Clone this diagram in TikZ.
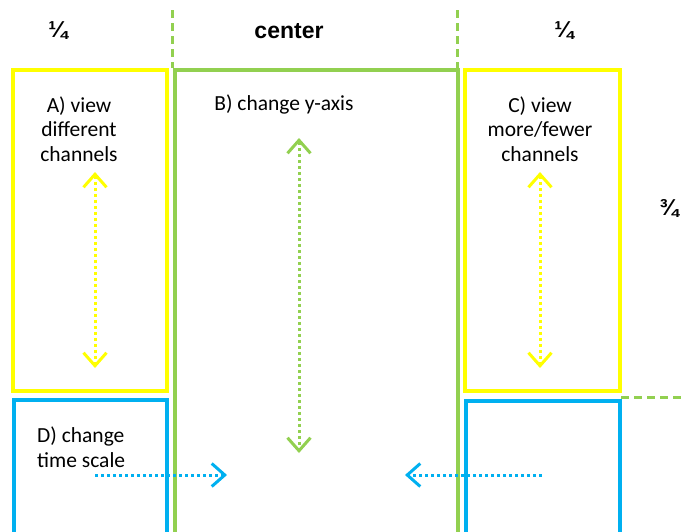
\documentclass[tikz,border=0pt]{standalone}
\usepackage{fontspec}
\setmainfont{Carlito}
\newfontfamily\headfont{Liberation Sans}
\usetikzlibrary{arrows.meta}
\definecolor{areayellow}{RGB}{255,255,0}
\definecolor{areagreen}{RGB}{146,208,80}
\definecolor{areablue}{RGB}{0,176,240}
\tikzset{
  areabox/.style={line width=4pt},
  divider/.style={draw=areagreen, line width=3pt, dash pattern=on 8pt off 5pt},
  gesture/.style={line width=3pt, dash pattern=on 3pt off 3pt,
    {Straight Barb[length=13pt,width=23pt,line width=3pt]}-{Straight Barb[length=13pt,width=23pt,line width=3pt]}},
  swipe/.style={line width=3pt, dash pattern=on 3pt off 3pt,
    -{Straight Barb[length=13pt,width=23pt,line width=3pt]}},
  label/.style={font=\fontsize{21.5}{24.5}\selectfont, inner sep=0pt, align=center},
  head/.style={font=\headfont\bfseries\fontsize{23}{26}\selectfont, inner sep=0pt}
}
\begin{document}
\begin{tikzpicture}[x=1pt, y=-1pt]%
\useasboundingbox (0,0) rectangle (686,531);%
\clip (0,0) rectangle (686,531);%
\draw[divider] (172,10) -- (172,68);%
\draw[divider] (457,10) -- (457,68);%
\draw[divider] (621,397) -- (690,397);%
\node[head] (fracleft) at (58,31) {¼};%
\node[head] (centerhead) at (289,31) {center};%
\node[head] (fracright) at (564,31) {¼};%
\node[head] (fracside) at (669,208) {¾};%
\draw[areabox, draw=areagreen] (174.5,70) rectangle (457.5,560);%
\draw[areabox, draw=areayellow] (13,69.5) rectangle (167,390.5);%
\draw[areabox, draw=areayellow] (465,69.5) rectangle (620,391);%
\draw[areabox, draw=areablue] (14,400) rectangle (167,560);%
\draw[areabox, draw=areablue] (465.5,400.5) rectangle (619.5,560);%
\node[label] (viewA) at (79,129) {A) view\\different\\channels};%
\node[label] (changeB) at (284,104) {B) change y-axis};%
\node[label] (viewC) at (540,129) {C) view\\more/fewer\\channels};%
\node[label, align=left, anchor=west] (changeD) at (37,447) {D) change\\time scale};%
\coordinate (atopA) at (95,172);%
\coordinate (abotA) at (95,368);%
\coordinate (atopC) at (540,172);%
\coordinate (abotC) at (540,368);%
\coordinate (atopB) at (299,138);%
\coordinate (abotB) at (299,453);%
\coordinate (swipeLs) at (95,475);%
\coordinate (swipeLe) at (227,475);%
\coordinate (swipeRs) at (542,475);%
\coordinate (swipeRe) at (405,475);%
\draw[gesture, draw=areayellow] (atopA) -- (abotA);%
\draw[gesture, draw=areayellow] (atopC) -- (abotC);%
\draw[gesture, draw=areagreen] (atopB) -- (abotB);%
\draw[swipe, draw=areablue] (swipeLs) -- (swipeLe);%
\draw[swipe, draw=areablue] (swipeRs) -- (swipeRe);%
\end{tikzpicture}
\end{document}
